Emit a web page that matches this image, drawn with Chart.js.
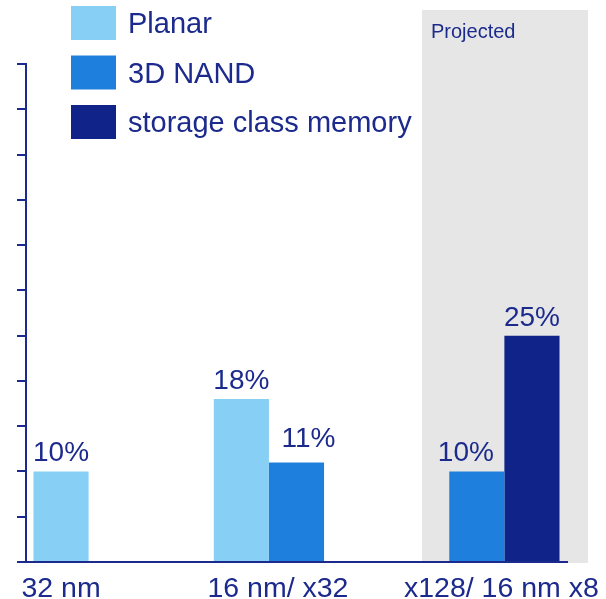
<!DOCTYPE html>
<html><head><meta charset="utf-8">
<script src="https://cdn.jsdelivr.net/npm/chart.js@4/dist/chart.umd.min.js"></script>
<style>html,body{margin:0;padding:0;background:#fff}#wrap{width:606px;height:599px}</style>
</head><body><div id="wrap"><canvas id="c" width="606" height="599"></canvas></div>
<script>
const categories = ['32 nm', '16 nm/ x32', 'x128/ 16 nm x8'];
const seriesNames = ['Planar', '3D NAND', 'storage class memory'];
const planar = [10, 18, null];
const nand3d = [null, 11, 10];
const scm = [null, null, 25];
const yTickValues = [0, 5, 10, 15, 20, 25, 30, 35, 40, 45, 50, 55];
const projectedLabel = 'Projected';

const NAVY = '#1b2a8c';
const COLORS = ['#88cff5', '#1e80dc', '#0f2388'];
const FONT = '"Liberation Sans", Arial, sans-serif';
// small nudges of individual value labels, as in the original layout [dataset][category] -> [dx, dy]
const valueLabelNudge = { '1-1': [12, -5], '1-2': [-11, 0] };
const categoryLabelNudge = [0, 9, -3];

const decor = {
  id: 'decor',
  beforeDraw(chart) {
    const ctx = chart.ctx;
    ctx.save();
    ctx.fillStyle = '#e6e6e6';
    ctx.fillRect(422, 10, 166, 553);
    ctx.fillStyle = NAVY;
    ctx.font = '20px ' + FONT;
    ctx.textAlign = 'left';
    ctx.textBaseline = 'alphabetic';
    ctx.fillText(projectedLabel, 431, 38);
    ctx.restore();
  },
  afterDatasetsDraw(chart) {
    const ctx = chart.ctx;
    ctx.save();
    ctx.fillStyle = NAVY;
    ctx.font = '28px ' + FONT;
    ctx.textAlign = 'center';
    ctx.textBaseline = 'alphabetic';
    chart.data.datasets.forEach((ds, di) => {
      const meta = chart.getDatasetMeta(di);
      meta.data.forEach((el, i) => {
        const v = ds.data[i];
        if (v === null || v === undefined) return;
        const n = valueLabelNudge[di + '-' + i] || [0, 0];
        ctx.fillText(v + '%', el.x + n[0], el.y - 10 + n[1]);
      });
    });
    ctx.restore();
  },
  afterDraw(chart) {
    const ctx = chart.ctx;
    ctx.save();
    ctx.fillStyle = NAVY;
    ctx.font = '28.5px ' + FONT;
    ctx.textAlign = 'center';
    ctx.textBaseline = 'alphabetic';
    chart.data.labels.forEach((lab, i) => {
      let lo = Infinity, hi = -Infinity;
      chart.data.datasets.forEach((ds, di) => {
        const v = ds.data[i];
        if (v === null || v === undefined) return;
        const el = chart.getDatasetMeta(di).data[i];
        lo = Math.min(lo, el.x - el.width / 2);
        hi = Math.max(hi, el.x + el.width / 2);
      });
      ctx.fillText(lab, (lo + hi) / 2 + categoryLabelNudge[i], 597);
    });
    ctx.font = '29px ' + FONT;
    ctx.textAlign = 'left';
    ctx.textBaseline = 'middle';
    chart.data.datasets.forEach((ds, di) => {
      const y = 6 + di * 49.5;
      ctx.fillStyle = ds.backgroundColor;
      ctx.fillRect(71, y, 45, 34);
      ctx.fillStyle = NAVY;
      ctx.fillText(ds.label, 128, y + 19);
    });
    ctx.restore();
  }
};

new Chart(document.getElementById('c'), {
  type: 'bar',
  data: {
    labels: categories,
    datasets: [
      { label: seriesNames[0], data: planar, backgroundColor: COLORS[0] },
      { label: seriesNames[1], data: nand3d, backgroundColor: COLORS[1] },
      { label: seriesNames[2], data: scm, backgroundColor: COLORS[2] }
    ]
  },
  options: {
    responsive: false,
    animation: false,
    devicePixelRatio: 1,
    layout: { padding: { left: 17, right: 39, top: 64, bottom: 37 } },
    plugins: { legend: { display: false }, tooltip: { enabled: false } },
    datasets: { bar: { categoryPercentage: 0.917, barPercentage: 1 } },
    scales: {
      x: {
        grid: { display: false, drawTicks: false },
        border: { display: true, color: NAVY, width: 2 },
        ticks: { display: false }
      },
      y: {
        min: yTickValues[0],
        max: yTickValues[yTickValues.length - 1],
        afterBuildTicks(scale) { scale.ticks = yTickValues.map(v => ({ value: v })); },
        ticks: { display: false },
        grid: { drawOnChartArea: false, drawTicks: true, tickLength: 9, color: NAVY, lineWidth: 2 },
        border: { display: true, color: NAVY, width: 2 }
      }
    }
  },
  plugins: [decor]
});
</script>
</body></html>
